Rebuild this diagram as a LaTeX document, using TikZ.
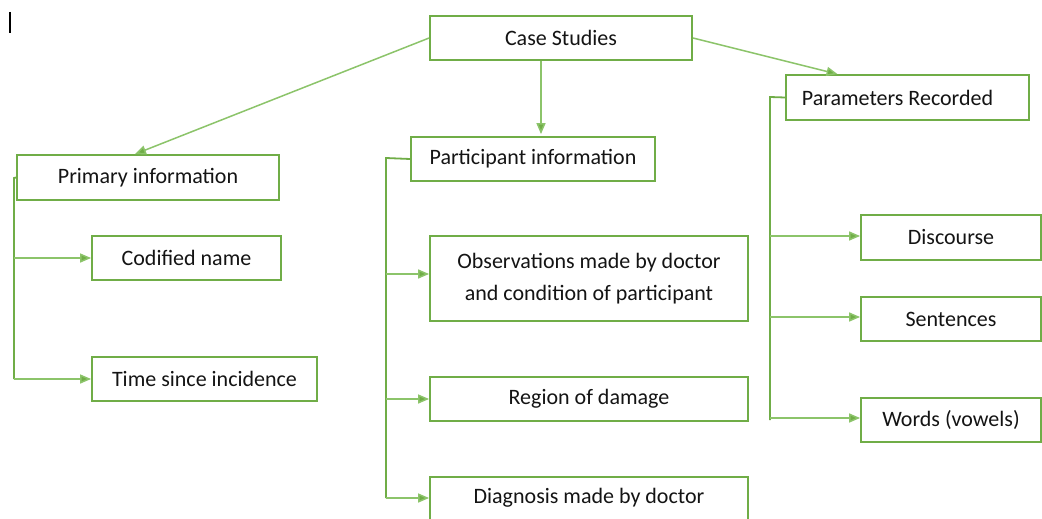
\documentclass[tikz,border=0pt]{standalone}
\usepackage{fontspec}
\setmainfont{Carlito}
\usetikzlibrary{arrows.meta,calc}
\definecolor{boxgreen}{HTML}{70AD47}
\definecolor{linkgreen}{HTML}{8CC46A}
\definecolor{inkdark}{HTML}{141414}
\tikzset{
  labelfont/.style={font=\fontsize{22}{32}\selectfont},
  card/.style={draw=boxgreen, line width=1.8pt, fill=white, rectangle,
    inner sep=0pt, align=center, text=inkdark, labelfont},
  link/.style={draw=linkgreen, line width=1.5pt,
    -{Triangle[length=11pt,width=9pt,fill=boxgreen]}},
  bus/.style={draw=boxgreen, line width=1.8pt},
  tap/.style={draw=linkgreen, line width=1.5pt,
    -{Triangle[length=11pt,width=9pt,fill=boxgreen]}},
}
\begin{document}
\begin{tikzpicture}[x=1pt,y=-1pt]
\useasboundingbox (0,0) rectangle (1042,519);
\fill[white] (0,0) rectangle (1042,519);

% text cursor mark
\draw[black, line width=1.2pt] (10,12) -- (10,33);

% top level
\node[card, minimum width=262pt, minimum height=44pt] (case) at (561,38) {Case Studies};

% left branch
\node[card, minimum width=262pt, minimum height=45pt] (pri) at (148,177.5) {Primary information};
\node[card, minimum width=189pt, minimum height=44pt] (cod) at (186.5,258) {Codified name};
\node[card, minimum width=225pt, minimum height=44pt] (tim) at (204.5,379) {Time since incidence};

% middle branch
\node[card, minimum width=244pt, minimum height=44pt] (par) at (533,159) {Participant information};
\node[card, minimum width=318pt, minimum height=85pt] (obs) at (589,278.5) {Observations made by doctor\\and condition of participant};
\node[card, minimum width=318pt, minimum height=44pt] (reg) at (589,399) {Region of damage};
\node[card, minimum width=318pt, minimum height=70pt] (dia) at (589,512) {};
\node[text=inkdark, labelfont] (diat) at (589,498) {Diagnosis made by doctor};

% right branch
\node[card, minimum width=243pt, minimum height=45pt] (prm) at (907.5,97.5) {\hspace*{-20pt}Parameters Recorded};
\node[card, minimum width=180pt, minimum height=45pt] (dis) at (951,237.5) {Discourse};
\node[card, minimum width=180pt, minimum height=44pt] (sen) at (951,319) {Sentences};
\node[card, minimum width=180pt, minimum height=44pt] (wor) at (951,420) {Words (vowels)};

% links from the top box
\draw[link] (case.west) -- ($(pri.north)+(-13,0)$);
\draw[link] ($(case.south)+(-20,0)$) -- ($(par.north)+(8,-2)$);
\draw[link] (case.east) -- ($(prm.north)+(-70,0)$);

% left bus
\coordinate (lb) at (14,178);
\draw[bus] (pri.west) -- (lb) -- (lb |- tim.west);
\draw[tap] (lb |- cod.west) -- (cod.west);
\draw[tap] (lb |- tim.west) -- (tim.west);

% middle bus
\coordinate (mb) at (386,158);
\draw[bus] (par.west) -- (mb) -- ($(mb |- diat)$);
\draw[tap] (mb |- 0,274) -- (obs.west |- 0,274);
\draw[tap] (mb |- reg.west) -- (reg.west);
\draw[tap] (mb |- diat) -- (dia.west |- diat);

% right bus
\coordinate (rb) at (770,97);
\draw[bus] (prm.west) -- (rb) -- (rb |- wor.west);
\draw[tap] (rb |- 0,236) -- (dis.west |- 0,236);
\draw[tap] (rb |- 0,317) -- (sen.west |- 0,317);
\draw[tap] (rb |- 0,418) -- (wor.west |- 0,418);
\end{tikzpicture}
\end{document}
